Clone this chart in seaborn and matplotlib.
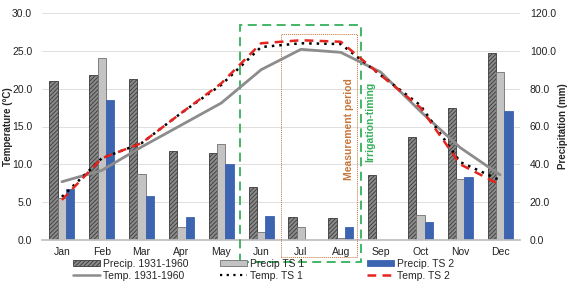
import numpy as np
import pandas as pd
import seaborn as sns
import matplotlib.pyplot as plt
from matplotlib.patches import Rectangle, Patch
from matplotlib.lines import Line2D

months = ["Jan", "Feb", "Mar", "Apr", "May", "Jun", "Jul", "Aug", "Sep", "Oct", "Nov", "Dec"]
precip_hist = [84, 87, 85, 47, 46, 28, 12, 11.5, 34.5, 54.5, 70, 99]
precip_ts1 = [22, 96, 35, 7, 51, 4, 7, 0.8, 0, 13, 32.5, 89]
precip_ts2 = [27, 74, 23, 12, 40, 12.5, 0, 7, 0, 9.5, 33.5, 68]
temp_hist = [7.7, 9.2, 12.3, 15.2, 18.1, 22.5, 25.2, 24.8, 22.2, 17.0, 12.2, 8.6]
temp_ts1 = [5.7, 10.8, 12.8, 16.8, 20.5, 25.5, 26.0, 25.9, 21.8, 17.8, 10.3, 7.9]
temp_ts2 = [5.3, 10.8, 12.8, 16.8, 20.7, 26.0, 26.4, 26.2, 21.8, 17.5, 10.0, 7.3]
precip_names = ["Precip. 1931-1960", "Precip TS 1", "Precip. TS 2"]
temp_names = ["Temp. 1931-1960", "Temp. TS 1", "Temp. TS 2"]

sns.set_theme(style="white")
plt.rcParams['font.family'] = ['Liberation Sans', 'DejaVu Sans']
plt.rcParams['hatch.linewidth'] = 0.6

c_dark, c_light, c_blue = "#8a8a8a", "#c3c3c3", "#3d64b0"
c_gray, c_red = "#8c8c8c", "#e3241f"
c_green, c_orange = "#34b05a", "#c8763a"

pdf = pd.DataFrame({
    "month": months * 3,
    "series": [precip_names[0]] * 12 + [precip_names[1]] * 12 + [precip_names[2]] * 12,
    "value": precip_hist + precip_ts1 + precip_ts2,
})

fig = plt.figure(figsize=(5.71, 2.85), dpi=100)
axp = fig.add_axes([42 / 571, 1 - 240 / 285, 478 / 571, 227 / 285])
sns.barplot(data=pdf, x="month", y="value", hue="series", ax=axp,
            palette=[c_dark, c_light, c_blue], width=0.63, legend=False,
            saturation=1)
edges = ["#3a3a3a", "#707070", c_blue]
for i, cont in enumerate(axp.containers):
    for b in cont:
        b.set_edgecolor(edges[i])
        b.set_linewidth(0.6)
        if i == 0:
            b.set_hatch("////////")

axt = axp.twinx()

axp.set_ylim(0, 120)
axp.set_xlim(-0.5, 11.5)
axp.yaxis.tick_right()
axp.yaxis.set_label_position("right")
axp.set_yticks(np.arange(0, 121, 20))
axp.set_yticklabels([f"{v:.1f}" for v in np.arange(0, 121, 20)])
axp.set_xlabel("")
axp.set_ylabel("Precipitation (mm)", fontsize=7, fontweight="bold")
axp.yaxis.set_label_coords(1.0795, 0.5)
for s in axp.spines.values():
    s.set_visible(False)
axp.spines["bottom"].set_visible(True)
axp.spines["bottom"].set_color("#bfbfbf")
axp.tick_params(axis="y", length=0, pad=7, labelsize=7.5, colors="#222222")
axp.tick_params(axis="x", length=0, pad=5, labelsize=7.5, colors="#222222")
for v in np.arange(20, 121, 20):
    axp.axhline(v, color="#dedede", lw=0.7, zorder=0)

axt.yaxis.tick_left()
axt.yaxis.set_label_position("left")
x = np.arange(len(months))
tdf = pd.DataFrame({"x": x, "hist": temp_hist, "ts1": temp_ts1, "ts2": temp_ts2})
sns.lineplot(data=tdf, x="x", y="hist", ax=axt, color=c_gray, lw=2, sort=False)
sns.lineplot(data=tdf, x="x", y="ts1", ax=axt, color="black", lw=1.8, sort=False,
             linestyle=(0, (1, 2)))
sns.lineplot(data=tdf, x="x", y="ts2", ax=axt, color=c_red, lw=1.8, sort=False,
             linestyle=(0, (3.5, 2.5)))
axt.set_ylim(0, 30)
axt.set_xlim(-0.5, 11.5)
axt.set_yticks(np.arange(0, 31, 5))
axt.set_yticklabels([f"{v:.1f}" for v in np.arange(0, 31, 5)])
axt.set_xlabel("")
axt.set_ylabel("Temperature (°C)", fontsize=7, fontweight="bold")
axt.yaxis.set_label_coords(-0.06, 0.5)
for s in axt.spines.values():
    s.set_visible(False)
axt.tick_params(axis="y", length=0, pad=7, labelsize=7.5, colors="#222222")

# annotation boxes
jun, jul, aug = months.index("Jun"), months.index("Jul"), months.index("Aug")
axt.add_patch(Rectangle((jun - 0.54, -2.9), (aug + 0.52) - (jun - 0.54), 28.4 + 2.9,
                        fill=False, ec=c_green, lw=1.3, ls=(0, (5, 3)), clip_on=False))
axt.add_patch(Rectangle((jul - 0.5, -2.25), (aug + 0.4) - (jul - 0.5), 27.2 + 2.25,
                        fill=False, ec=c_orange, lw=0.7, ls=(0, (1, 1)), clip_on=False))
axt.text(aug + 0.2, 14.7, "Measurement period", rotation=90, color=c_orange,
         fontsize=7.5, fontweight="bold", ha="center", va="center")
axt.text(aug + 0.75, 15.6, "Irrigation-timing", rotation=90, color=c_green,
         fontsize=7.5, fontweight="bold", ha="center", va="center")

# legends
phandles = [Patch(fc=c_dark, ec="#3a3a3a", hatch="////////", lw=0.6),
            Patch(fc=c_light, ec="#707070", lw=0.6),
            Patch(fc=c_blue, ec=c_blue, lw=0.6)]
thandles = [Line2D([], [], color=c_gray, lw=1.8),
            Line2D([], [], color="black", lw=1.6, ls=(0, (1, 2))),
            Line2D([], [], color=c_red, lw=1.8, ls=(0, (3.5, 2.5)))]
xs = [73, 220, 367]
for i in range(3):
    fig.legend([phandles[i], thandles[i]], [precip_names[i], temp_names[i]],
               loc="upper left", bbox_to_anchor=(xs[i] / 571, 1 - 259 / 285),
               frameon=False, fontsize=7.5, handlelength=2.6, handleheight=0.45,
               handletextpad=0.25, labelspacing=0.15, borderpad=0, borderaxespad=0)

fig.savefig("out.png", dpi=100)
